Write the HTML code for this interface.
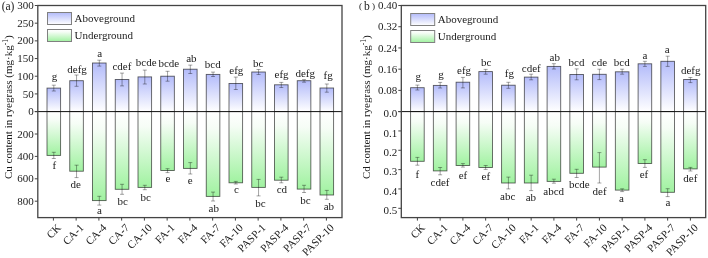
<!DOCTYPE html>
<html><head><meta charset="utf-8"><style>
html,body{margin:0;padding:0;background:#fff;}
svg{display:block;will-change:transform;}
text{font-family:"Liberation Serif", serif;fill:#1a1a1a;}
</style></head><body>
<svg width="708" height="258" viewBox="0 0 708 258">
<defs>
<linearGradient id="gUp" x1="0" y1="0" x2="0" y2="1"><stop offset="0" stop-color="#b3bbfa"/><stop offset="1" stop-color="#ffffff"/></linearGradient>
<linearGradient id="gDn" x1="0" y1="0" x2="0" y2="1"><stop offset="0" stop-color="#ffffff"/><stop offset="0.2" stop-color="#f6fdf6"/><stop offset="1" stop-color="#a0f2a0"/></linearGradient>
</defs>
<rect x="47.00" y="88.10" width="13.6" height="23.50" fill="url(#gUp)" stroke="#000" stroke-opacity="0.62" stroke-width="0.9"/>
<rect x="47.00" y="111.60" width="13.6" height="43.80" fill="url(#gDn)" stroke="#000" stroke-opacity="0.62" stroke-width="0.9"/>
<rect x="69.75" y="80.70" width="13.6" height="30.90" fill="url(#gUp)" stroke="#000" stroke-opacity="0.62" stroke-width="0.9"/>
<rect x="69.75" y="111.60" width="13.6" height="59.60" fill="url(#gDn)" stroke="#000" stroke-opacity="0.62" stroke-width="0.9"/>
<rect x="92.50" y="63.00" width="13.6" height="48.60" fill="url(#gUp)" stroke="#000" stroke-opacity="0.62" stroke-width="0.9"/>
<rect x="92.50" y="111.60" width="13.6" height="89.00" fill="url(#gDn)" stroke="#000" stroke-opacity="0.62" stroke-width="0.9"/>
<rect x="115.25" y="79.50" width="13.6" height="32.10" fill="url(#gUp)" stroke="#000" stroke-opacity="0.62" stroke-width="0.9"/>
<rect x="115.25" y="111.60" width="13.6" height="77.70" fill="url(#gDn)" stroke="#000" stroke-opacity="0.62" stroke-width="0.9"/>
<rect x="138.00" y="76.90" width="13.6" height="34.70" fill="url(#gUp)" stroke="#000" stroke-opacity="0.62" stroke-width="0.9"/>
<rect x="138.00" y="111.60" width="13.6" height="75.80" fill="url(#gDn)" stroke="#000" stroke-opacity="0.62" stroke-width="0.9"/>
<rect x="160.75" y="76.20" width="13.6" height="35.40" fill="url(#gUp)" stroke="#000" stroke-opacity="0.62" stroke-width="0.9"/>
<rect x="160.75" y="111.60" width="13.6" height="58.90" fill="url(#gDn)" stroke="#000" stroke-opacity="0.62" stroke-width="0.9"/>
<rect x="183.50" y="69.20" width="13.6" height="42.40" fill="url(#gUp)" stroke="#000" stroke-opacity="0.62" stroke-width="0.9"/>
<rect x="183.50" y="111.60" width="13.6" height="56.80" fill="url(#gDn)" stroke="#000" stroke-opacity="0.62" stroke-width="0.9"/>
<rect x="206.25" y="74.40" width="13.6" height="37.20" fill="url(#gUp)" stroke="#000" stroke-opacity="0.62" stroke-width="0.9"/>
<rect x="206.25" y="111.60" width="13.6" height="84.80" fill="url(#gDn)" stroke="#000" stroke-opacity="0.62" stroke-width="0.9"/>
<rect x="229.00" y="83.50" width="13.6" height="28.10" fill="url(#gUp)" stroke="#000" stroke-opacity="0.62" stroke-width="0.9"/>
<rect x="229.00" y="111.60" width="13.6" height="71.20" fill="url(#gDn)" stroke="#000" stroke-opacity="0.62" stroke-width="0.9"/>
<rect x="251.75" y="72.00" width="13.6" height="39.60" fill="url(#gUp)" stroke="#000" stroke-opacity="0.62" stroke-width="0.9"/>
<rect x="251.75" y="111.60" width="13.6" height="75.80" fill="url(#gDn)" stroke="#000" stroke-opacity="0.62" stroke-width="0.9"/>
<rect x="274.50" y="84.80" width="13.6" height="26.80" fill="url(#gUp)" stroke="#000" stroke-opacity="0.62" stroke-width="0.9"/>
<rect x="274.50" y="111.60" width="13.6" height="68.60" fill="url(#gDn)" stroke="#000" stroke-opacity="0.62" stroke-width="0.9"/>
<rect x="297.25" y="80.70" width="13.6" height="30.90" fill="url(#gUp)" stroke="#000" stroke-opacity="0.62" stroke-width="0.9"/>
<rect x="297.25" y="111.60" width="13.6" height="77.50" fill="url(#gDn)" stroke="#000" stroke-opacity="0.62" stroke-width="0.9"/>
<rect x="320.00" y="88.00" width="13.6" height="23.60" fill="url(#gUp)" stroke="#000" stroke-opacity="0.62" stroke-width="0.9"/>
<rect x="320.00" y="111.60" width="13.6" height="83.40" fill="url(#gDn)" stroke="#000" stroke-opacity="0.62" stroke-width="0.9"/>
<path d="M53.80 85.20V91.00M51.80 85.20h4M51.80 91.00h4" stroke="#000" stroke-opacity="0.45" stroke-width="0.8" fill="none"/>
<path d="M53.80 152.30V158.50M51.80 152.30h4M51.80 158.50h4" stroke="#000" stroke-opacity="0.45" stroke-width="0.8" fill="none"/>
<path d="M76.55 75.00V86.30M74.55 75.00h4M74.55 86.30h4" stroke="#000" stroke-opacity="0.45" stroke-width="0.8" fill="none"/>
<path d="M76.55 165.20V177.60M74.55 165.20h4M74.55 177.60h4" stroke="#000" stroke-opacity="0.45" stroke-width="0.8" fill="none"/>
<path d="M99.30 60.20V66.10M97.30 60.20h4M97.30 66.10h4" stroke="#000" stroke-opacity="0.45" stroke-width="0.8" fill="none"/>
<path d="M99.30 196.30V205.10M97.30 196.30h4M97.30 205.10h4" stroke="#000" stroke-opacity="0.45" stroke-width="0.8" fill="none"/>
<path d="M122.05 73.10V85.90M120.05 73.10h4M120.05 85.90h4" stroke="#000" stroke-opacity="0.45" stroke-width="0.8" fill="none"/>
<path d="M122.05 184.30V194.30M120.05 184.30h4M120.05 194.30h4" stroke="#000" stroke-opacity="0.45" stroke-width="0.8" fill="none"/>
<path d="M144.80 70.10V84.00M142.80 70.10h4M142.80 84.00h4" stroke="#000" stroke-opacity="0.45" stroke-width="0.8" fill="none"/>
<path d="M144.80 185.30V189.70M142.80 185.30h4M142.80 189.70h4" stroke="#000" stroke-opacity="0.45" stroke-width="0.8" fill="none"/>
<path d="M167.55 71.30V81.20M165.55 71.30h4M165.55 81.20h4" stroke="#000" stroke-opacity="0.45" stroke-width="0.8" fill="none"/>
<path d="M167.55 168.70V172.60M165.55 168.70h4M165.55 172.60h4" stroke="#000" stroke-opacity="0.45" stroke-width="0.8" fill="none"/>
<path d="M190.30 65.10V73.50M188.30 65.10h4M188.30 73.50h4" stroke="#000" stroke-opacity="0.45" stroke-width="0.8" fill="none"/>
<path d="M190.30 162.60V174.00M188.30 162.60h4M188.30 174.00h4" stroke="#000" stroke-opacity="0.45" stroke-width="0.8" fill="none"/>
<path d="M213.05 72.10V76.50M211.05 72.10h4M211.05 76.50h4" stroke="#000" stroke-opacity="0.45" stroke-width="0.8" fill="none"/>
<path d="M213.05 192.10V201.00M211.05 192.10h4M211.05 201.00h4" stroke="#000" stroke-opacity="0.45" stroke-width="0.8" fill="none"/>
<path d="M235.80 77.10V89.50M233.80 77.10h4M233.80 89.50h4" stroke="#000" stroke-opacity="0.45" stroke-width="0.8" fill="none"/>
<path d="M235.80 181.40V184.00M233.80 181.40h4M233.80 184.00h4" stroke="#000" stroke-opacity="0.45" stroke-width="0.8" fill="none"/>
<path d="M258.55 69.50V74.50M256.55 69.50h4M256.55 74.50h4" stroke="#000" stroke-opacity="0.45" stroke-width="0.8" fill="none"/>
<path d="M258.55 179.40V195.90M256.55 179.40h4M256.55 195.90h4" stroke="#000" stroke-opacity="0.45" stroke-width="0.8" fill="none"/>
<path d="M281.30 82.40V87.50M279.30 82.40h4M279.30 87.50h4" stroke="#000" stroke-opacity="0.45" stroke-width="0.8" fill="none"/>
<path d="M281.30 177.20V182.80M279.30 177.20h4M279.30 182.80h4" stroke="#000" stroke-opacity="0.45" stroke-width="0.8" fill="none"/>
<path d="M304.05 79.60V82.20M302.05 79.60h4M302.05 82.20h4" stroke="#000" stroke-opacity="0.45" stroke-width="0.8" fill="none"/>
<path d="M304.05 185.30V192.50M302.05 185.30h4M302.05 192.50h4" stroke="#000" stroke-opacity="0.45" stroke-width="0.8" fill="none"/>
<path d="M326.80 84.00V92.20M324.80 84.00h4M324.80 92.20h4" stroke="#000" stroke-opacity="0.45" stroke-width="0.8" fill="none"/>
<path d="M326.80 190.40V199.30M324.80 190.40h4M324.80 199.30h4" stroke="#000" stroke-opacity="0.45" stroke-width="0.8" fill="none"/>
<text x="54.45" y="80.40" text-anchor="middle" font-size="11">g</text>
<text x="54.25" y="169.40" text-anchor="middle" font-size="11">f</text>
<text x="77.10" y="73.00" text-anchor="middle" font-size="11">defg</text>
<text x="75.75" y="187.70" text-anchor="middle" font-size="11">de</text>
<text x="99.60" y="56.70" text-anchor="middle" font-size="11">a</text>
<text x="99.55" y="213.80" text-anchor="middle" font-size="11">a</text>
<text x="121.95" y="70.20" text-anchor="middle" font-size="11">cdef</text>
<text x="122.65" y="205.30" text-anchor="middle" font-size="11">bc</text>
<text x="146.15" y="66.30" text-anchor="middle" font-size="11">bcde</text>
<text x="145.60" y="201.00" text-anchor="middle" font-size="11">bc</text>
<text x="168.80" y="66.60" text-anchor="middle" font-size="11">bcde</text>
<text x="167.85" y="181.50" text-anchor="middle" font-size="11">e</text>
<text x="191.35" y="62.40" text-anchor="middle" font-size="11">ab</text>
<text x="190.25" y="183.60" text-anchor="middle" font-size="11">e</text>
<text x="212.75" y="68.40" text-anchor="middle" font-size="11">bcd</text>
<text x="213.80" y="212.10" text-anchor="middle" font-size="11">ab</text>
<text x="236.35" y="73.60" text-anchor="middle" font-size="11">efg</text>
<text x="236.40" y="193.00" text-anchor="middle" font-size="11">c</text>
<text x="258.15" y="66.60" text-anchor="middle" font-size="11">bc</text>
<text x="260.35" y="206.70" text-anchor="middle" font-size="11">bc</text>
<text x="281.55" y="78.30" text-anchor="middle" font-size="11">efg</text>
<text x="281.85" y="192.70" text-anchor="middle" font-size="11">cd</text>
<text x="305.25" y="76.70" text-anchor="middle" font-size="11">defg</text>
<text x="305.35" y="203.90" text-anchor="middle" font-size="11">bc</text>
<text x="328.15" y="79.00" text-anchor="middle" font-size="11">fg</text>
<text x="328.85" y="209.90" text-anchor="middle" font-size="11">ab</text>
<line x1="34.8" y1="111.6" x2="342.0" y2="111.6" stroke="#111" stroke-width="1"/>
<rect x="37.80" y="5.5" width="304.20" height="212.10" fill="none" stroke="#444" stroke-width="1.3"/>
<line x1="34.8" y1="5.50" x2="37.8" y2="5.50" stroke="#444" stroke-width="1"/>
<text x="33.8" y="9.10" text-anchor="end" font-size="11">300</text>
<line x1="34.8" y1="23.18" x2="37.8" y2="23.18" stroke="#444" stroke-width="1"/>
<text x="33.8" y="26.78" text-anchor="end" font-size="11">250</text>
<line x1="34.8" y1="40.87" x2="37.8" y2="40.87" stroke="#444" stroke-width="1"/>
<text x="33.8" y="44.47" text-anchor="end" font-size="11">200</text>
<line x1="34.8" y1="58.55" x2="37.8" y2="58.55" stroke="#444" stroke-width="1"/>
<text x="33.8" y="62.15" text-anchor="end" font-size="11">150</text>
<line x1="34.8" y1="76.23" x2="37.8" y2="76.23" stroke="#444" stroke-width="1"/>
<text x="33.8" y="79.83" text-anchor="end" font-size="11">100</text>
<line x1="34.8" y1="93.92" x2="37.8" y2="93.92" stroke="#444" stroke-width="1"/>
<text x="33.8" y="97.52" text-anchor="end" font-size="11">50</text>
<line x1="34.8" y1="111.60" x2="37.8" y2="111.60" stroke="#444" stroke-width="1"/>
<text x="33.8" y="115.20" text-anchor="end" font-size="11">0</text>
<line x1="34.8" y1="134.00" x2="37.8" y2="134.00" stroke="#444" stroke-width="1"/>
<text x="33.8" y="137.60" text-anchor="end" font-size="11">200</text>
<line x1="34.8" y1="156.40" x2="37.8" y2="156.40" stroke="#444" stroke-width="1"/>
<text x="33.8" y="160.00" text-anchor="end" font-size="11">400</text>
<line x1="34.8" y1="178.80" x2="37.8" y2="178.80" stroke="#444" stroke-width="1"/>
<text x="33.8" y="182.40" text-anchor="end" font-size="11">600</text>
<line x1="34.8" y1="201.20" x2="37.8" y2="201.20" stroke="#444" stroke-width="1"/>
<text x="33.8" y="204.80" text-anchor="end" font-size="11">800</text>
<line x1="53.40" y1="217.6" x2="53.40" y2="220.6" stroke="#444" stroke-width="1"/>
<text transform="translate(61.70,228.3) rotate(-45)" text-anchor="end" font-size="11">CK</text>
<line x1="76.15" y1="217.6" x2="76.15" y2="220.6" stroke="#444" stroke-width="1"/>
<text transform="translate(84.45,228.3) rotate(-45)" text-anchor="end" font-size="11">CA-1</text>
<line x1="98.90" y1="217.6" x2="98.90" y2="220.6" stroke="#444" stroke-width="1"/>
<text transform="translate(107.20,228.3) rotate(-45)" text-anchor="end" font-size="11">CA-4</text>
<line x1="121.65" y1="217.6" x2="121.65" y2="220.6" stroke="#444" stroke-width="1"/>
<text transform="translate(129.95,228.3) rotate(-45)" text-anchor="end" font-size="11">CA-7</text>
<line x1="144.40" y1="217.6" x2="144.40" y2="220.6" stroke="#444" stroke-width="1"/>
<text transform="translate(152.70,228.3) rotate(-45)" text-anchor="end" font-size="11">CA-10</text>
<line x1="167.15" y1="217.6" x2="167.15" y2="220.6" stroke="#444" stroke-width="1"/>
<text transform="translate(175.45,228.3) rotate(-45)" text-anchor="end" font-size="11">FA-1</text>
<line x1="189.90" y1="217.6" x2="189.90" y2="220.6" stroke="#444" stroke-width="1"/>
<text transform="translate(198.20,228.3) rotate(-45)" text-anchor="end" font-size="11">FA-4</text>
<line x1="212.65" y1="217.6" x2="212.65" y2="220.6" stroke="#444" stroke-width="1"/>
<text transform="translate(220.95,228.3) rotate(-45)" text-anchor="end" font-size="11">FA-7</text>
<line x1="235.40" y1="217.6" x2="235.40" y2="220.6" stroke="#444" stroke-width="1"/>
<text transform="translate(243.70,228.3) rotate(-45)" text-anchor="end" font-size="11">FA-10</text>
<line x1="258.15" y1="217.6" x2="258.15" y2="220.6" stroke="#444" stroke-width="1"/>
<text transform="translate(266.45,228.3) rotate(-45)" text-anchor="end" font-size="11">PASP-1</text>
<line x1="280.90" y1="217.6" x2="280.90" y2="220.6" stroke="#444" stroke-width="1"/>
<text transform="translate(289.20,228.3) rotate(-45)" text-anchor="end" font-size="11">PASP-4</text>
<line x1="303.65" y1="217.6" x2="303.65" y2="220.6" stroke="#444" stroke-width="1"/>
<text transform="translate(311.95,228.3) rotate(-45)" text-anchor="end" font-size="11">PASP-7</text>
<line x1="326.40" y1="217.6" x2="326.40" y2="220.6" stroke="#444" stroke-width="1"/>
<text transform="translate(334.70,228.3) rotate(-45)" text-anchor="end" font-size="11">PASP-10</text>
<rect x="410.60" y="87.70" width="13.6" height="23.90" fill="url(#gUp)" stroke="#000" stroke-opacity="0.62" stroke-width="0.9"/>
<rect x="410.60" y="111.60" width="13.6" height="49.70" fill="url(#gDn)" stroke="#000" stroke-opacity="0.62" stroke-width="0.9"/>
<rect x="433.35" y="85.40" width="13.6" height="26.20" fill="url(#gUp)" stroke="#000" stroke-opacity="0.62" stroke-width="0.9"/>
<rect x="433.35" y="111.60" width="13.6" height="59.30" fill="url(#gDn)" stroke="#000" stroke-opacity="0.62" stroke-width="0.9"/>
<rect x="456.10" y="82.20" width="13.6" height="29.40" fill="url(#gUp)" stroke="#000" stroke-opacity="0.62" stroke-width="0.9"/>
<rect x="456.10" y="111.60" width="13.6" height="53.90" fill="url(#gDn)" stroke="#000" stroke-opacity="0.62" stroke-width="0.9"/>
<rect x="478.85" y="71.60" width="13.6" height="40.00" fill="url(#gUp)" stroke="#000" stroke-opacity="0.62" stroke-width="0.9"/>
<rect x="478.85" y="111.60" width="13.6" height="55.90" fill="url(#gDn)" stroke="#000" stroke-opacity="0.62" stroke-width="0.9"/>
<rect x="501.60" y="85.20" width="13.6" height="26.40" fill="url(#gUp)" stroke="#000" stroke-opacity="0.62" stroke-width="0.9"/>
<rect x="501.60" y="111.60" width="13.6" height="71.40" fill="url(#gDn)" stroke="#000" stroke-opacity="0.62" stroke-width="0.9"/>
<rect x="524.35" y="77.10" width="13.6" height="34.50" fill="url(#gUp)" stroke="#000" stroke-opacity="0.62" stroke-width="0.9"/>
<rect x="524.35" y="111.60" width="13.6" height="71.40" fill="url(#gDn)" stroke="#000" stroke-opacity="0.62" stroke-width="0.9"/>
<rect x="547.10" y="66.40" width="13.6" height="45.20" fill="url(#gUp)" stroke="#000" stroke-opacity="0.62" stroke-width="0.9"/>
<rect x="547.10" y="111.60" width="13.6" height="69.80" fill="url(#gDn)" stroke="#000" stroke-opacity="0.62" stroke-width="0.9"/>
<rect x="569.85" y="74.50" width="13.6" height="37.10" fill="url(#gUp)" stroke="#000" stroke-opacity="0.62" stroke-width="0.9"/>
<rect x="569.85" y="111.60" width="13.6" height="61.70" fill="url(#gDn)" stroke="#000" stroke-opacity="0.62" stroke-width="0.9"/>
<rect x="592.60" y="74.30" width="13.6" height="37.30" fill="url(#gUp)" stroke="#000" stroke-opacity="0.62" stroke-width="0.9"/>
<rect x="592.60" y="111.60" width="13.6" height="55.50" fill="url(#gDn)" stroke="#000" stroke-opacity="0.62" stroke-width="0.9"/>
<rect x="615.35" y="71.80" width="13.6" height="39.80" fill="url(#gUp)" stroke="#000" stroke-opacity="0.62" stroke-width="0.9"/>
<rect x="615.35" y="111.60" width="13.6" height="78.50" fill="url(#gDn)" stroke="#000" stroke-opacity="0.62" stroke-width="0.9"/>
<rect x="638.10" y="63.80" width="13.6" height="47.80" fill="url(#gUp)" stroke="#000" stroke-opacity="0.62" stroke-width="0.9"/>
<rect x="638.10" y="111.60" width="13.6" height="51.90" fill="url(#gDn)" stroke="#000" stroke-opacity="0.62" stroke-width="0.9"/>
<rect x="660.85" y="61.30" width="13.6" height="50.30" fill="url(#gUp)" stroke="#000" stroke-opacity="0.62" stroke-width="0.9"/>
<rect x="660.85" y="111.60" width="13.6" height="80.70" fill="url(#gDn)" stroke="#000" stroke-opacity="0.62" stroke-width="0.9"/>
<rect x="683.60" y="79.50" width="13.6" height="32.10" fill="url(#gUp)" stroke="#000" stroke-opacity="0.62" stroke-width="0.9"/>
<rect x="683.60" y="111.60" width="13.6" height="57.30" fill="url(#gDn)" stroke="#000" stroke-opacity="0.62" stroke-width="0.9"/>
<path d="M417.40 85.10V90.00M415.40 85.10h4M415.40 90.00h4" stroke="#000" stroke-opacity="0.45" stroke-width="0.8" fill="none"/>
<path d="M417.40 157.40V165.20M415.40 157.40h4M415.40 165.20h4" stroke="#000" stroke-opacity="0.45" stroke-width="0.8" fill="none"/>
<path d="M440.15 82.40V88.00M438.15 82.40h4M438.15 88.00h4" stroke="#000" stroke-opacity="0.45" stroke-width="0.8" fill="none"/>
<path d="M440.15 167.50V174.80M438.15 167.50h4M438.15 174.80h4" stroke="#000" stroke-opacity="0.45" stroke-width="0.8" fill="none"/>
<path d="M462.90 77.40V87.90M460.90 77.40h4M460.90 87.90h4" stroke="#000" stroke-opacity="0.45" stroke-width="0.8" fill="none"/>
<path d="M462.90 163.60V167.10M460.90 163.60h4M460.90 167.10h4" stroke="#000" stroke-opacity="0.45" stroke-width="0.8" fill="none"/>
<path d="M485.65 69.40V74.20M483.65 69.40h4M483.65 74.20h4" stroke="#000" stroke-opacity="0.45" stroke-width="0.8" fill="none"/>
<path d="M485.65 165.50V169.40M483.65 165.50h4M483.65 169.40h4" stroke="#000" stroke-opacity="0.45" stroke-width="0.8" fill="none"/>
<path d="M508.40 82.30V88.30M506.40 82.30h4M506.40 88.30h4" stroke="#000" stroke-opacity="0.45" stroke-width="0.8" fill="none"/>
<path d="M508.40 177.10V188.90M506.40 177.10h4M506.40 188.90h4" stroke="#000" stroke-opacity="0.45" stroke-width="0.8" fill="none"/>
<path d="M531.15 74.20V79.80M529.15 74.20h4M529.15 79.80h4" stroke="#000" stroke-opacity="0.45" stroke-width="0.8" fill="none"/>
<path d="M531.15 175.20V190.60M529.15 175.20h4M529.15 190.60h4" stroke="#000" stroke-opacity="0.45" stroke-width="0.8" fill="none"/>
<path d="M553.90 63.70V69.00M551.90 63.70h4M551.90 69.00h4" stroke="#000" stroke-opacity="0.45" stroke-width="0.8" fill="none"/>
<path d="M553.90 179.20V183.20M551.90 179.20h4M551.90 183.20h4" stroke="#000" stroke-opacity="0.45" stroke-width="0.8" fill="none"/>
<path d="M576.65 68.90V79.80M574.65 68.90h4M574.65 79.80h4" stroke="#000" stroke-opacity="0.45" stroke-width="0.8" fill="none"/>
<path d="M576.65 169.30V177.50M574.65 169.30h4M574.65 177.50h4" stroke="#000" stroke-opacity="0.45" stroke-width="0.8" fill="none"/>
<path d="M599.40 69.20V79.60M597.40 69.20h4M597.40 79.60h4" stroke="#000" stroke-opacity="0.45" stroke-width="0.8" fill="none"/>
<path d="M599.40 152.60V183.00M597.40 152.60h4M597.40 183.00h4" stroke="#000" stroke-opacity="0.45" stroke-width="0.8" fill="none"/>
<path d="M622.15 69.20V74.20M620.15 69.20h4M620.15 74.20h4" stroke="#000" stroke-opacity="0.45" stroke-width="0.8" fill="none"/>
<path d="M622.15 188.80V191.60M620.15 188.80h4M620.15 191.60h4" stroke="#000" stroke-opacity="0.45" stroke-width="0.8" fill="none"/>
<path d="M644.90 61.30V66.40M642.90 61.30h4M642.90 66.40h4" stroke="#000" stroke-opacity="0.45" stroke-width="0.8" fill="none"/>
<path d="M644.90 159.70V167.40M642.90 159.70h4M642.90 167.40h4" stroke="#000" stroke-opacity="0.45" stroke-width="0.8" fill="none"/>
<path d="M667.65 56.20V66.40M665.65 56.20h4M665.65 66.40h4" stroke="#000" stroke-opacity="0.45" stroke-width="0.8" fill="none"/>
<path d="M667.65 188.70V196.60M665.65 188.70h4M665.65 196.60h4" stroke="#000" stroke-opacity="0.45" stroke-width="0.8" fill="none"/>
<path d="M690.40 77.50V82.60M688.40 77.50h4M688.40 82.60h4" stroke="#000" stroke-opacity="0.45" stroke-width="0.8" fill="none"/>
<path d="M690.40 167.40V171.00M688.40 167.40h4M688.40 171.00h4" stroke="#000" stroke-opacity="0.45" stroke-width="0.8" fill="none"/>
<text x="418.30" y="80.20" text-anchor="middle" font-size="11">g</text>
<text x="417.35" y="177.60" text-anchor="middle" font-size="11">f</text>
<text x="441.00" y="77.80" text-anchor="middle" font-size="11">g</text>
<text x="440.00" y="185.70" text-anchor="middle" font-size="11">cdef</text>
<text x="464.05" y="74.40" text-anchor="middle" font-size="11">efg</text>
<text x="463.00" y="178.70" text-anchor="middle" font-size="11">ef</text>
<text x="486.20" y="66.30" text-anchor="middle" font-size="11">bc</text>
<text x="485.80" y="180.20" text-anchor="middle" font-size="11">ef</text>
<text x="509.45" y="77.40" text-anchor="middle" font-size="11">fg</text>
<text x="507.70" y="199.50" text-anchor="middle" font-size="11">abc</text>
<text x="531.30" y="71.50" text-anchor="middle" font-size="11">cdef</text>
<text x="530.85" y="201.40" text-anchor="middle" font-size="11">ab</text>
<text x="554.75" y="60.80" text-anchor="middle" font-size="11">ab</text>
<text x="553.75" y="194.50" text-anchor="middle" font-size="11">abcd</text>
<text x="576.50" y="65.90" text-anchor="middle" font-size="11">bcd</text>
<text x="579.35" y="187.90" text-anchor="middle" font-size="11">bcde</text>
<text x="599.50" y="65.50" text-anchor="middle" font-size="11">cde</text>
<text x="599.60" y="195.20" text-anchor="middle" font-size="11">def</text>
<text x="621.75" y="65.50" text-anchor="middle" font-size="11">bcd</text>
<text x="621.45" y="202.20" text-anchor="middle" font-size="11">a</text>
<text x="644.90" y="58.70" text-anchor="middle" font-size="11">a</text>
<text x="643.90" y="177.80" text-anchor="middle" font-size="11">ef</text>
<text x="667.25" y="52.80" text-anchor="middle" font-size="11">a</text>
<text x="668.00" y="206.20" text-anchor="middle" font-size="11">a</text>
<text x="690.65" y="74.40" text-anchor="middle" font-size="11">defg</text>
<text x="690.35" y="182.30" text-anchor="middle" font-size="11">def</text>
<line x1="398.3" y1="111.6" x2="705.7" y2="111.6" stroke="#111" stroke-width="1"/>
<rect x="401.30" y="5.5" width="304.40" height="212.10" fill="none" stroke="#444" stroke-width="1.3"/>
<line x1="398.3" y1="5.50" x2="401.3" y2="5.50" stroke="#444" stroke-width="1"/>
<text x="397.3" y="9.10" text-anchor="end" font-size="11">0.40</text>
<line x1="398.3" y1="26.72" x2="401.3" y2="26.72" stroke="#444" stroke-width="1"/>
<text x="397.3" y="30.32" text-anchor="end" font-size="11">0.32</text>
<line x1="398.3" y1="47.94" x2="401.3" y2="47.94" stroke="#444" stroke-width="1"/>
<text x="397.3" y="51.54" text-anchor="end" font-size="11">0.24</text>
<line x1="398.3" y1="69.16" x2="401.3" y2="69.16" stroke="#444" stroke-width="1"/>
<text x="397.3" y="72.76" text-anchor="end" font-size="11">0.16</text>
<line x1="398.3" y1="90.38" x2="401.3" y2="90.38" stroke="#444" stroke-width="1"/>
<text x="397.3" y="93.98" text-anchor="end" font-size="11">0.08</text>
<line x1="398.3" y1="111.60" x2="401.3" y2="111.60" stroke="#444" stroke-width="1"/>
<text x="397.3" y="117.20" text-anchor="end" font-size="11">0.0</text>
<line x1="398.3" y1="130.94" x2="401.3" y2="130.94" stroke="#444" stroke-width="1"/>
<text x="397.3" y="136.54" text-anchor="end" font-size="11">0.1</text>
<line x1="398.3" y1="150.28" x2="401.3" y2="150.28" stroke="#444" stroke-width="1"/>
<text x="397.3" y="155.88" text-anchor="end" font-size="11">0.2</text>
<line x1="398.3" y1="169.62" x2="401.3" y2="169.62" stroke="#444" stroke-width="1"/>
<text x="397.3" y="175.22" text-anchor="end" font-size="11">0.3</text>
<line x1="398.3" y1="188.96" x2="401.3" y2="188.96" stroke="#444" stroke-width="1"/>
<text x="397.3" y="194.56" text-anchor="end" font-size="11">0.4</text>
<line x1="398.3" y1="208.30" x2="401.3" y2="208.30" stroke="#444" stroke-width="1"/>
<text x="397.3" y="213.90" text-anchor="end" font-size="11">0.5</text>
<line x1="417.40" y1="217.6" x2="417.40" y2="220.6" stroke="#444" stroke-width="1"/>
<text transform="translate(425.70,228.3) rotate(-45)" text-anchor="end" font-size="11">CK</text>
<line x1="440.15" y1="217.6" x2="440.15" y2="220.6" stroke="#444" stroke-width="1"/>
<text transform="translate(448.45,228.3) rotate(-45)" text-anchor="end" font-size="11">CA-1</text>
<line x1="462.90" y1="217.6" x2="462.90" y2="220.6" stroke="#444" stroke-width="1"/>
<text transform="translate(471.20,228.3) rotate(-45)" text-anchor="end" font-size="11">CA-4</text>
<line x1="485.65" y1="217.6" x2="485.65" y2="220.6" stroke="#444" stroke-width="1"/>
<text transform="translate(493.95,228.3) rotate(-45)" text-anchor="end" font-size="11">CA-7</text>
<line x1="508.40" y1="217.6" x2="508.40" y2="220.6" stroke="#444" stroke-width="1"/>
<text transform="translate(516.70,228.3) rotate(-45)" text-anchor="end" font-size="11">CA-10</text>
<line x1="531.15" y1="217.6" x2="531.15" y2="220.6" stroke="#444" stroke-width="1"/>
<text transform="translate(539.45,228.3) rotate(-45)" text-anchor="end" font-size="11">FA-1</text>
<line x1="553.90" y1="217.6" x2="553.90" y2="220.6" stroke="#444" stroke-width="1"/>
<text transform="translate(562.20,228.3) rotate(-45)" text-anchor="end" font-size="11">FA-4</text>
<line x1="576.65" y1="217.6" x2="576.65" y2="220.6" stroke="#444" stroke-width="1"/>
<text transform="translate(584.95,228.3) rotate(-45)" text-anchor="end" font-size="11">FA-7</text>
<line x1="599.40" y1="217.6" x2="599.40" y2="220.6" stroke="#444" stroke-width="1"/>
<text transform="translate(607.70,228.3) rotate(-45)" text-anchor="end" font-size="11">FA-10</text>
<line x1="622.15" y1="217.6" x2="622.15" y2="220.6" stroke="#444" stroke-width="1"/>
<text transform="translate(630.45,228.3) rotate(-45)" text-anchor="end" font-size="11">PASP-1</text>
<line x1="644.90" y1="217.6" x2="644.90" y2="220.6" stroke="#444" stroke-width="1"/>
<text transform="translate(653.20,228.3) rotate(-45)" text-anchor="end" font-size="11">PASP-4</text>
<line x1="667.65" y1="217.6" x2="667.65" y2="220.6" stroke="#444" stroke-width="1"/>
<text transform="translate(675.95,228.3) rotate(-45)" text-anchor="end" font-size="11">PASP-7</text>
<line x1="690.40" y1="217.6" x2="690.40" y2="220.6" stroke="#444" stroke-width="1"/>
<text transform="translate(698.70,228.3) rotate(-45)" text-anchor="end" font-size="11">PASP-10</text>
<rect x="47.50" y="12.50" width="24" height="12" fill="url(#gUp)" stroke="#808080" stroke-width="1"/>
<rect x="47.50" y="29.50" width="24" height="12" fill="url(#gDn)" stroke="#808080" stroke-width="1"/>
<text x="74.60" y="22.10" font-size="11">Aboveground</text>
<text x="74.60" y="39.20" font-size="11">Underground</text>
<rect x="410.70" y="13.50" width="24" height="12" fill="url(#gUp)" stroke="#808080" stroke-width="1"/>
<rect x="410.70" y="30.50" width="24" height="12" fill="url(#gDn)" stroke="#808080" stroke-width="1"/>
<text x="437.80" y="23.10" font-size="11">Aboveground</text>
<text x="437.80" y="40.20" font-size="11">Underground</text>
<text x="1.7" y="9.5" font-size="11.5">(a)</text>
<text x="359.0" y="9.4" font-size="9.2" fill="#444">(</text>
<text x="364.0" y="9.9" font-size="11.6">b</text>
<text x="371.9" y="9.4" font-size="9.2" fill="#444">)</text>
<text transform="translate(12,107.2) rotate(-90)" text-anchor="middle" font-size="11">Cu content in ryegrass (mg·kg<tspan font-size="7.5" dy="-4">-1</tspan><tspan dy="4">)</tspan></text>
<text transform="translate(370,107.2) rotate(-90)" text-anchor="middle" font-size="11">Cd content in ryegrass (mg·kg<tspan font-size="7.5" dy="-4">-1</tspan><tspan dy="4">)</tspan></text>
</svg></body></html>
